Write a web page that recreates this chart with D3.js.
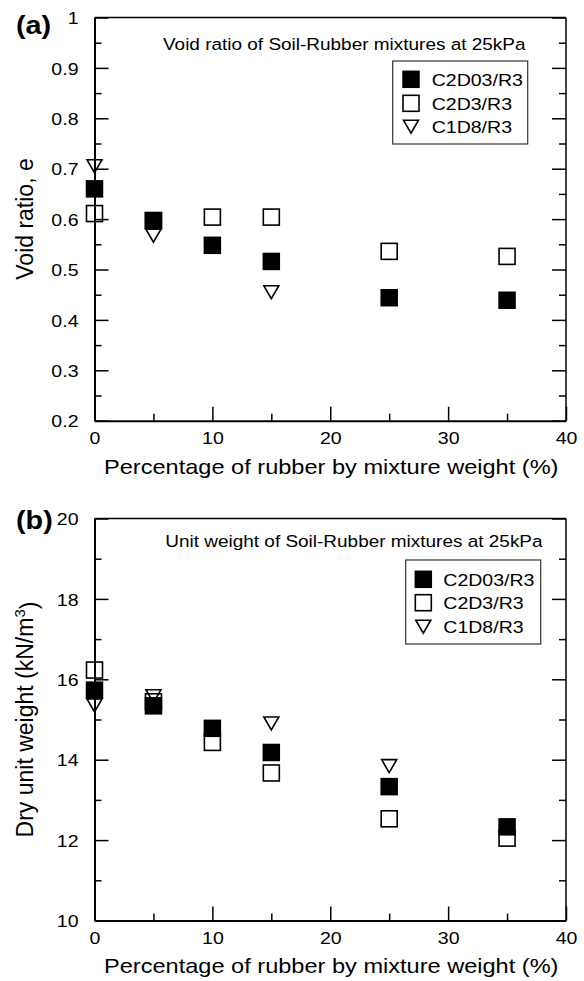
<!DOCTYPE html>
<html>
<head>
<meta charset="utf-8">
<script src="https://cdn.jsdelivr.net/npm/d3@7"></script>
<style>
html,body{margin:0;padding:0;background:#fff;}
svg{display:block;}
text{font-family:"Liberation Sans",Arial,Helvetica,sans-serif;fill:#000;}
</style>
</head>
<body>
<svg id="chart" width="584" height="981"></svg>
<script>
// ---------------- data ----------------
const rubberPct = [0, 5, 10, 15, 25, 35];
const seriesNames = ["C2D03/R3", "C2D3/R3", "C1D8/R3"];

const voidC2D03 = [0.660, 0.597, 0.548, 0.516, 0.444, 0.439];
const voidC2D3  = [0.611, 0.597, 0.604, 0.604, 0.536, 0.526];
const voidC1D8  = [0.705, 0.567, null, 0.455, null, null];

const unitC2D03 = [15.73, 15.34, 14.78, 14.18, 13.33, 12.33];
const unitC2D3  = [16.23, 15.44, 14.43, 13.67, 12.53, 12.05];
const unitC1D8  = [15.35, 15.58, null, 14.90, 13.84, null];

const xMajorTicks = [0, 10, 20, 30, 40];
const xMinorTicks = [5, 15, 25, 35];
const voidMajorTicks = [0.2, 0.3, 0.4, 0.5, 0.6, 0.7, 0.8, 0.9, 1.0];
const voidMinorTicks = [0.25, 0.35, 0.45, 0.55, 0.65, 0.75, 0.85, 0.95];
const unitMajorTicks = [10, 12, 14, 16, 18, 20];
const unitMinorTicks = [11, 13, 15, 17, 19];

const xTitle = "Percentage of rubber by mixture weight (%)";
const panelA = {label: "(a)", title: "Void ratio of Soil-Rubber mixtures at 25kPa",
  yTitle: "Void ratio, e", series: [voidC2D03, voidC2D3, voidC1D8],
  domain: [0.2, 1.0], major: voidMajorTicks, minor: voidMinorTicks,
  fmt: d => (Math.abs(d - 1) < 1e-9 ? "1" : d3.format(".1f")(d))};
const panelB = {label: "(b)", title: "Unit weight of Soil-Rubber mixtures at 25kPa",
  yTitle: "Dry unit weight (kN/m", series: [unitC2D03, unitC2D3, unitC1D8],
  domain: [10, 20], major: unitMajorTicks, minor: unitMinorTicks,
  fmt: d3.format("d")};

// ---------------- layout ----------------
const SX = 1.15;               // horizontal glyph stretch seen in the reference
const svg = d3.select("#chart");
const X0 = 94.5, X1 = 566;

const layouts = [
  {panel: panelA, top: 17.5, bottom: 420.7,
   labelPos: [16, 33.5], titlePos: [163, 50], yTitlePos: [33, 219], xTitleY: 473.5,
   legend: {x: 392.7, y: 61, w: 135, h: 83, symX: 411, textX: 431.7, rows: [79.3, 103.3, 126.7]}},
  {panel: panelB, top: 518.5, bottom: 920.5,
   labelPos: [16, 528.5], titlePos: [165.3, 546.7], yTitlePos: [33, 719.5], xTitleY: 973,
   legend: {x: 405.7, y: 560, w: 135, h: 84, symX: 423.3, textX: 443.3, rows: [579.3, 602.7, 626.7]}}
];

function stretchedText(parent, x, y, str, size, anchor, weight) {
  const g = parent.append("g").attr("transform", `translate(${x},${y}) scale(${SX},1)`);
  return g.append("text").attr("x", 0).attr("y", 0)
    .attr("font-size", size).attr("text-anchor", anchor || "start")
    .attr("font-weight", weight || "normal").text(str);
}

// marker drawers
function drawMarker(g, type, cx, cy) {
  if (type === 0) {
    const s = 17.5;
    g.append("rect").attr("x", cx - s / 2).attr("y", cy - s / 2).attr("width", s).attr("height", s)
      .attr("fill", "#000");
  } else if (type === 1) {
    const s = 16;
    g.append("rect").attr("x", cx - s / 2).attr("y", cy - s / 2).attr("width", s).attr("height", s)
      .attr("fill", "none").attr("stroke", "#000").attr("stroke-width", 1.6);
  } else {
    const w = 15, h = 13;
    g.append("path")
      .attr("d", `M${cx - w / 2},${cy - h / 2}L${cx + w / 2},${cy - h / 2}L${cx},${cy + h / 2}Z`)
      .attr("fill", "none").attr("stroke", "#000").attr("stroke-width", 1.6)
      .attr("stroke-linejoin", "miter");
  }
}

const x = d3.scaleLinear().domain([0, 40]).range([X0, X1]);

layouts.forEach(L => {
  const P = L.panel;
  const y = d3.scaleLinear().domain(P.domain).range([L.bottom, L.top]);
  const g = svg.append("g");

  // frame (top & right thinner)
  g.append("line").attr("x1", X0).attr("x2", X1).attr("y1", L.top).attr("y2", L.top)
    .attr("stroke", "#000").attr("stroke-width", 1.5);
  g.append("line").attr("x1", X1).attr("x2", X1).attr("y1", L.top).attr("y2", L.bottom)
    .attr("stroke", "#000").attr("stroke-width", 1.5);

  // minor ticks
  const minorStyle = sel => { sel.select(".domain").remove(); sel.selectAll("line").attr("stroke-width", 1.5); sel.selectAll("text").remove(); };
  g.append("g").attr("transform", `translate(0,${L.bottom})`)
    .call(d3.axisBottom(x).tickValues(xMinorTicks).tickSize(-7).tickSizeOuter(0)).call(minorStyle);
  g.append("g").attr("transform", `translate(${X0},0)`)
    .call(d3.axisLeft(y).tickValues(P.minor).tickSize(-7).tickSizeOuter(0)).call(minorStyle);
  g.append("g").attr("transform", `translate(${X1},0)`)
    .call(d3.axisRight(y).tickValues(P.minor).tickSize(-7).tickSizeOuter(0)).call(minorStyle);

  // right major ticks
  g.append("g").attr("transform", `translate(${X1},0)`)
    .call(d3.axisRight(y).tickValues(P.major).tickSize(-14).tickSizeOuter(0))
    .call(sel => { sel.select(".domain").remove(); sel.selectAll("line").attr("stroke-width", 1.5); sel.selectAll("text").remove(); });

  // left axis
  const ya = g.append("g").attr("transform", `translate(${X0},0)`)
    .call(d3.axisLeft(y).tickValues(P.major).tickFormat(P.fmt).tickSize(-14).tickSizeOuter(0).tickPadding(16));
  ya.select(".domain").attr("stroke-width", 2);
  ya.selectAll("line").attr("stroke-width", 1.5);
  ya.selectAll("text").attr("font-size", 17).attr("font-family", null)
    .attr("x", -16 / SX).attr("transform", `scale(${SX},1)`).attr("dy", "0.36em");

  // bottom axis
  const xa = g.append("g").attr("transform", `translate(0,${L.bottom})`)
    .call(d3.axisBottom(x).tickValues(xMajorTicks).tickFormat(d3.format("d")).tickSize(-14).tickSizeOuter(0).tickPadding(11));
  xa.select(".domain").attr("stroke-width", 2);
  xa.selectAll("line").attr("stroke-width", 1.5);
  xa.selectAll("text").attr("font-size", 17).attr("font-family", null)
    .attr("transform", `scale(${SX},1)`);

  // panel label
  stretchedText(svg, L.labelPos[0], L.labelPos[1], P.label, 25, "start", "bold");
  // inner title
  stretchedText(svg, L.titlePos[0], L.titlePos[1], P.title, 16.5, "start");
  // x title
  stretchedText(svg, (X0 + X1) / 2 + 1, L.xTitleY, xTitle, 20.5, "middle");
  // y title
  const yt = svg.append("text").attr("transform", `translate(${L.yTitlePos[0]},${L.yTitlePos[1]}) rotate(-90)`)
    .attr("text-anchor", "middle").attr("font-size", 23).text(P.yTitle);
  if (P === panelB) {
    yt.append("tspan").attr("font-size", 15).attr("dy", "-0.55em").text("3");
    yt.append("tspan").attr("dy", "0.55em").text(")");
  }

  // markers: open squares, triangles, filled squares (filled on top)
  const mg = g.append("g");
  [1, 2, 0].forEach(si => {
    P.series[si].forEach((v, i) => {
      if (v === null) return;
      drawMarker(mg, si, x(rubberPct[i]), y(v));
    });
  });

  // legend
  const Lg = L.legend;
  g.append("rect").attr("x", Lg.x).attr("y", Lg.y).attr("width", Lg.w).attr("height", Lg.h)
    .attr("fill", "#fff").attr("stroke", "#333").attr("stroke-width", 1.2);
  seriesNames.forEach((name, si) => {
    drawMarker(g, si, Lg.symX, Lg.rows[si]);
    stretchedText(g, Lg.textX, Lg.rows[si] + 6.5, name, 17, "start");
  });
});
</script>
</body>
</html>
